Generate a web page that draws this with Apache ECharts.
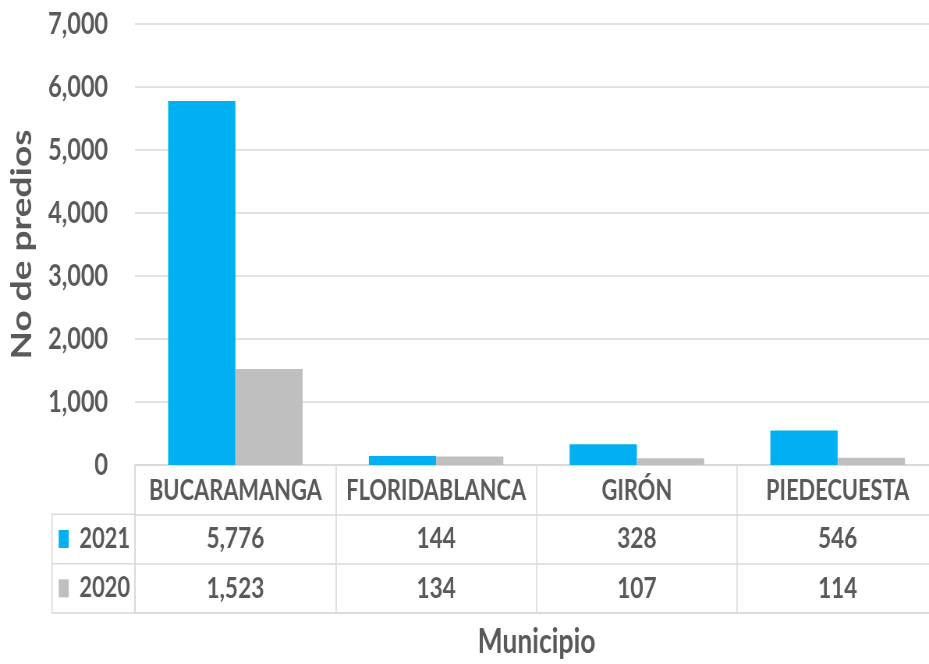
<!DOCTYPE html>
<html><head><meta charset="utf-8">
<script src="https://cdn.jsdelivr.net/npm/echarts@6/dist/echarts.min.js"></script>
<style>
html,body{margin:0;padding:0;background:#fff;overflow:hidden;width:929px;height:664px}
#wrap{width:929px;height:664px;overflow:hidden;position:relative}
#c{position:absolute;left:0;top:0;height:664px;transform-origin:0 0}
</style>
</head><body><div id="wrap"><div id="c"></div></div>
<script>
const categories = ['BUCARAMANGA', 'FLORIDABLANCA', 'GIRÓN', 'PIEDECUESTA'];
const seriesNames = ['2021', '2020'];
const values2021 = [5776, 144, 328, 546];
const values2020 = [1523, 134, 107, 114];
const yTicks = [0, 1000, 2000, 3000, 4000, 5000, 6000, 7000];

const colors = ['#00B0F0', '#BFBFBF'];
const txt = '#595959';
const lineC = '#D9D9D9';
const FN = "Lato, 'Open Sans', 'Liberation Sans', sans-serif";
const fmt = v => Number(v).toLocaleString('en-US');

// the reference is horizontally compressed; reproduce with a horizontal scale
const S = 0.78;
const X = px => px / S;
const el = document.getElementById('c');
el.style.width = X(960) + 'px';
el.style.transform = 'scaleX(' + S + ')';

const tableData = [];
categories.forEach((c, i) => {
  tableData.push([i, 1, values2021[i]]);
  tableData.push([i, 2, values2020[i]]);
});

const chart = echarts.init(el);
chart.setOption({
  animation: false,
  backgroundColor: '#fff',
  grid: [
    {left: X(135), top: 24, width: X(803), height: 441},
    {left: X(135), top: 465, width: X(803), height: 148}
  ],
  xAxis: [
    {type: 'category', gridIndex: 0, data: categories,
     axisLine: {show: true, lineStyle: {color: lineC, width: 1.5}},
     axisTick: {show: false},
     axisLabel: {interval: 0, color: txt, fontFamily: FN, fontWeight: 'bold', fontSize: 28, margin: 12}},
    {type: 'category', gridIndex: 1, data: categories, position: 'bottom',
     axisLine: {show: true, lineStyle: {color: lineC, width: 1.5}},
     axisTick: {show: false}, axisLabel: {show: false},
     splitLine: {show: true, interval: 0, lineStyle: {color: lineC, width: 1.5}},
     name: 'Municipio', nameLocation: 'middle', nameGap: 12,
     nameTextStyle: {color: txt, fontFamily: FN, fontWeight: 'bold', fontSize: 34}}
  ],
  yAxis: [
    {type: 'value', gridIndex: 0, min: yTicks[0], max: yTicks[yTicks.length - 1], interval: 1000,
     axisLine: {show: false}, axisTick: {show: false},
     splitLine: {show: true, lineStyle: {color: lineC, width: 1.5}},
     axisLabel: {color: txt, fontFamily: FN, fontWeight: 'bold', fontSize: 30, margin: X(27),
                 formatter: v => fmt(v)},
     name: 'No de predios', nameLocation: 'middle', nameGap: X(99), nameRotate: 90,
     nameTextStyle: {color: txt, fontFamily: FN, fontWeight: 'bold', fontSize: 37}},
    {type: 'category', gridIndex: 1, data: [''].concat(seriesNames), inverse: true,
     axisLine: {show: true, lineStyle: {color: lineC, width: 1.5}},
     axisTick: {show: false},
     splitLine: {show: true, interval: 0, lineStyle: {color: lineC, width: 1.5}},
     axisLabel: {interval: 0, margin: X(5), color: txt, fontFamily: FN, fontWeight: 'bold', fontSize: 28,
       formatter: (v, i) => v ? '{s' + (i - 1) + '|}  ' + v : '',
       rich: {
         s0: {width: X(10), height: 18, backgroundColor: colors[0]},
         s1: {width: X(10), height: 18, backgroundColor: colors[1]}
       }}}
  ],
  series: [
    {name: seriesNames[0], type: 'bar', xAxisIndex: 0, yAxisIndex: 0, data: values2021,
     itemStyle: {color: colors[0]}, barGap: '0%', barCategoryGap: '33%'},
    {name: seriesNames[1], type: 'bar', xAxisIndex: 0, yAxisIndex: 0, data: values2020,
     itemStyle: {color: colors[1]}, barGap: '0%', barCategoryGap: '33%'},
    {type: 'scatter', xAxisIndex: 1, yAxisIndex: 1, data: tableData, symbolSize: 0,
     encode: {x: 0, y: 1}, itemStyle: {opacity: 1},
     label: {show: true, position: 'inside', color: txt, fontFamily: FN, fontWeight: 'bold', fontSize: 29,
             formatter: p => fmt(p.value[2])}}
  ],
  graphic: [
    {type: 'rect', shape: {x: X(52), y: 514.3, width: X(83), height: 98.7},
     style: {fill: 'none', stroke: lineC, lineWidth: 1.5}, silent: true},
    {type: 'line', shape: {x1: X(52), y1: 563.7, x2: X(135), y2: 563.7},
     style: {stroke: lineC, lineWidth: 1.5}, silent: true}
  ]
});
</script></body></html>
